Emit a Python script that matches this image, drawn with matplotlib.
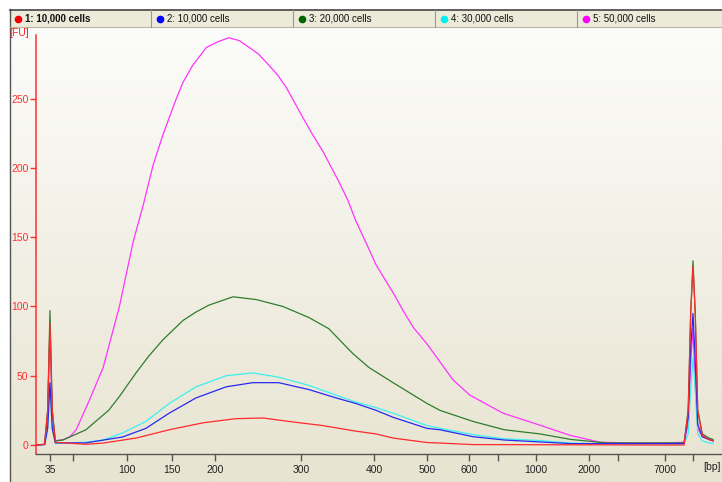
import numpy as np
import matplotlib
matplotlib.use("Agg")
import matplotlib.pyplot as plt
from matplotlib.patches import Rectangle

plt.rcParams['font.family'] = ['Liberation Sans', 'DejaVu Sans']

# ladder sizes shown on the axis and where the instrument places them (px)
ladder_bp = [35, 50, 100, 150, 200, 300, 400, 500, 600, 700, 1000, 2000, 3000, 7000, 10380]
ladder_pos = [50, 73, 127, 172, 215, 301, 374, 427, 469, 498, 536, 589, 618, 665, 693]
ladder_labels = ['35', '', '100', '150', '200', '300', '400', '500', '600', '', '1000',
                 '2000', '', '7000', '']
fu_ticks = [0, 50, 100, 150, 200, 250]

names = ['1: 10,000 cells', '2: 10,000 cells', '3: 20,000 cells',
         '4: 30,000 cells', '5: 50,000 cells']
colors = ['#ff2a2a', '#2828ee', '#2e7d2e', '#3cf0f0', '#ff33ff']
dots = ['#ee0000', '#0000ff', '#006400', '#00f0f0', '#ff00ff']

# sample 1 : 10,000 cells (red)
bp1 = [26, 31.5, 33.5, 35, 36.5, 38.5, 62, 78, 110, 147, 186, 224, 256, 286, 330, 375,
       404, 436, 500, 531, 614, 7000, 9300, 9800, 10100, 10380, 10650, 10950, 11500,
       12300, 12800]
fu1 = [0, 0.5, 25, 88, 25, 2, 0.5, 1.4, 5, 11, 16, 19, 19.5, 17, 14, 10,
       8, 5, 1.8, 1.4, 0.3, 0, 0, 25, 95, 129, 95, 25, 7,
       4, 3]

# sample 2 : 10,000 cells (blue)
bp2 = [26, 31.5, 33.5, 35, 36.5, 38.5, 62, 96, 121, 147, 178, 213, 244, 274, 311, 348,
       375, 404, 436, 500, 531, 614, 750, 1075, 1660, 7000, 9300, 9800, 10100, 10380,
       10650, 10950, 11500, 12300, 12800]
fu2 = [0, 0.3, 12, 45, 12, 1.5, 1.5, 5.8, 12, 23, 34, 42, 45, 45, 40, 34,
       30, 25, 20, 12, 11, 6, 3.6, 2.2, 1, 1, 1, 20, 70, 95,
       60, 15, 6, 4, 3]

# sample 3 : 20,000 cells (green)
bp3 = [26, 31.5, 33.5, 35, 36.5, 38.5, 43.5, 62, 83, 93, 110, 124, 140, 163, 178, 193,
       221, 248, 279, 311, 338, 371, 393, 436, 500, 531, 614, 750, 1075, 1660, 2600,
       7000, 9300, 9800, 10100, 10380, 10650, 10950, 11500, 12300, 12800]
fu3 = [0, 0.5, 25, 97, 25, 3, 3.6, 11, 25, 35, 52, 64, 76, 90, 96, 101,
       107, 105, 100, 92, 84, 66, 56, 45, 30, 25, 17, 11, 8, 4, 1.5,
       1.5, 1.5, 25, 95, 133, 95, 25, 8, 5, 4]

# sample 4 : 30,000 cells (cyan)
bp4 = [26, 31.5, 33.5, 35, 36.5, 38.5, 50, 62, 78, 96, 121, 147, 178, 213, 244, 274,
       311, 348, 375, 404, 436, 500, 531, 614, 750, 1075, 1660, 2600, 7000, 9300, 9800,
       10100, 10380, 10650, 10950, 11500, 12300, 12800]
fu4 = [0, 0.3, 12, 45, 12, 1.5, 1.5, 2, 3.6, 8.7, 17, 30, 42, 50, 52, 49,
       43, 36, 31, 27, 23, 14, 12, 7.5, 4.5, 3.2, 1.4, 0.8, 0.8, 0.8, 8,
       40, 63, 40, 8, 3, 1.5, 1]

# sample 5 : 50,000 cells (magenta)
bp5 = [26, 31.5, 33.5, 35, 36.5, 38.5, 44, 48, 53, 65, 78, 93, 107, 118, 129, 140,
       155, 163, 174, 190, 203, 216, 228, 240, 251, 263, 273, 283, 303, 316, 330, 338,
       352, 364, 375, 390, 404, 436, 455, 474, 500, 531, 562, 603, 739, 1019, 1642,
       2379, 4000, 7000, 9300, 9800, 10100, 10380, 10650, 10950, 11500, 12300, 12800]
fu5 = [0, 0.5, 22, 85, 22, 3, 4, 6, 11, 32, 56, 100, 147, 173, 202, 224,
       250, 262, 274, 287, 291, 294, 292, 287, 282, 274, 267, 258, 236, 224, 212, 204,
       190, 177, 162, 145, 130, 110, 97, 85, 73, 60, 47, 36, 23, 15, 7,
       2, 1.5, 1.5, 2, 15, 60, 84, 45, 12, 6, 4, 3]

series_bp = [bp1, bp2, bp3, bp4, bp5]
series_fu = [fu1, fu2, fu3, fu4, fu5]


# piecewise linear ladder scale, extrapolated at both ends
def _pw(x, xs, ys):
    x = np.asarray(x, dtype=float)
    xs = np.asarray(xs, dtype=float)
    ys = np.asarray(ys, dtype=float)
    out = np.interp(x, xs, ys)
    s0 = (ys[1] - ys[0]) / (xs[1] - xs[0])
    s1 = (ys[-1] - ys[-2]) / (xs[-1] - xs[-2])
    out = np.where(x < xs[0], ys[0] + (x - xs[0]) * s0, out)
    out = np.where(x > xs[-1], ys[-1] + (x - xs[-1]) * s1, out)
    return out


def fwd(x):
    return _pw(x, ladder_bp, ladder_pos)


def inv(p):
    return _pw(p, ladder_pos, ladder_bp)


W, H = 722, 482
fig = plt.figure(figsize=(W / 100, H / 100), dpi=100)
fig.patch.set_facecolor('white')

# pixel-space background layer
bg = fig.add_axes([0, 0, 1, 1], zorder=0)
bg.set_xlim(0, W)
bg.set_ylim(H, 0)
bg.axis('off')

top_c = np.array([0xfc, 0xfc, 0xfa]) / 255
bot_c = np.array([0xe8, 0xe4, 0xd1]) / 255
t = np.linspace(0, 1, 256)[:, None, None]
grad = top_c * (1 - t) + bot_c * t
bg.imshow(grad, extent=(10, W, H, 27), aspect='auto', interpolation='bilinear')
bg.plot([10, 10], [9, H], color='#555555', lw=1)

# header bar with sample names
bg.add_patch(Rectangle((10, 9.5), W - 10, 17, facecolor='#ecead9', edgecolor='none'))
bg.plot([10, W], [9.5, 9.5], color='#444444', lw=1.2)
bg.plot([10, W], [26.5, 26.5], color='#b8b5a5', lw=0.8)
for i, (nm, dc) in enumerate(zip(names, dots)):
    x0 = 10 + 142 * i
    if i > 0:
        bg.plot([x0 - 1, x0 - 1], [10, 26.5], color='#9a9890', lw=0.8)
    bg.plot(x0 + 7.5, 18.5, 'o', color=dc, ms=4.5, mec=dc)
    bg.text(x0 + 15, 18.8, nm, fontsize=7, va='center', ha='left', color='#111111',
            fontweight='bold' if i == 0 else 'normal')

bg.text(9, 33.5, '[FU]', color='#ff2020', fontsize=7.5, va='center', ha='left')
bg.text(712, 467, '[bp]', color='#222222', fontsize=7.5, va='center', ha='center')

# main electropherogram
ax = fig.add_axes([36 / W, 28 / H, (W - 36) / W, 419 / H], zorder=1)
ax.patch.set_alpha(0)
ax.set_xscale('function', functions=(fwd, inv))
for k in range(4, -1, -1):
    ax.plot(series_bp[k], series_fu[k], color=colors[k], lw=0.9)

ax.set_xlim(25.9, 13880)
ax.set_ylim(-6.5, 296)

ax.set_xticks(ladder_bp)
ax.set_xticklabels(ladder_labels)
ax.xaxis.set_minor_locator(matplotlib.ticker.NullLocator())
ax.set_yticks(fu_ticks)

for s in ['top', 'right']:
    ax.spines[s].set_visible(False)
ax.spines['left'].set_color('#ff3030')
ax.spines['left'].set_linewidth(1.1)
ax.spines['bottom'].set_color('#555555')
ax.spines['bottom'].set_linewidth(1.0)
ax.tick_params(axis='y', colors='#ff3030', labelcolor='#ff3030', labelsize=7.5,
               length=4, width=1, pad=1.5)
ax.tick_params(axis='x', colors='#555555', labelcolor='#222222', labelsize=7.5,
               length=5, width=1, pad=3)

fig.savefig('out.png', dpi=100)
